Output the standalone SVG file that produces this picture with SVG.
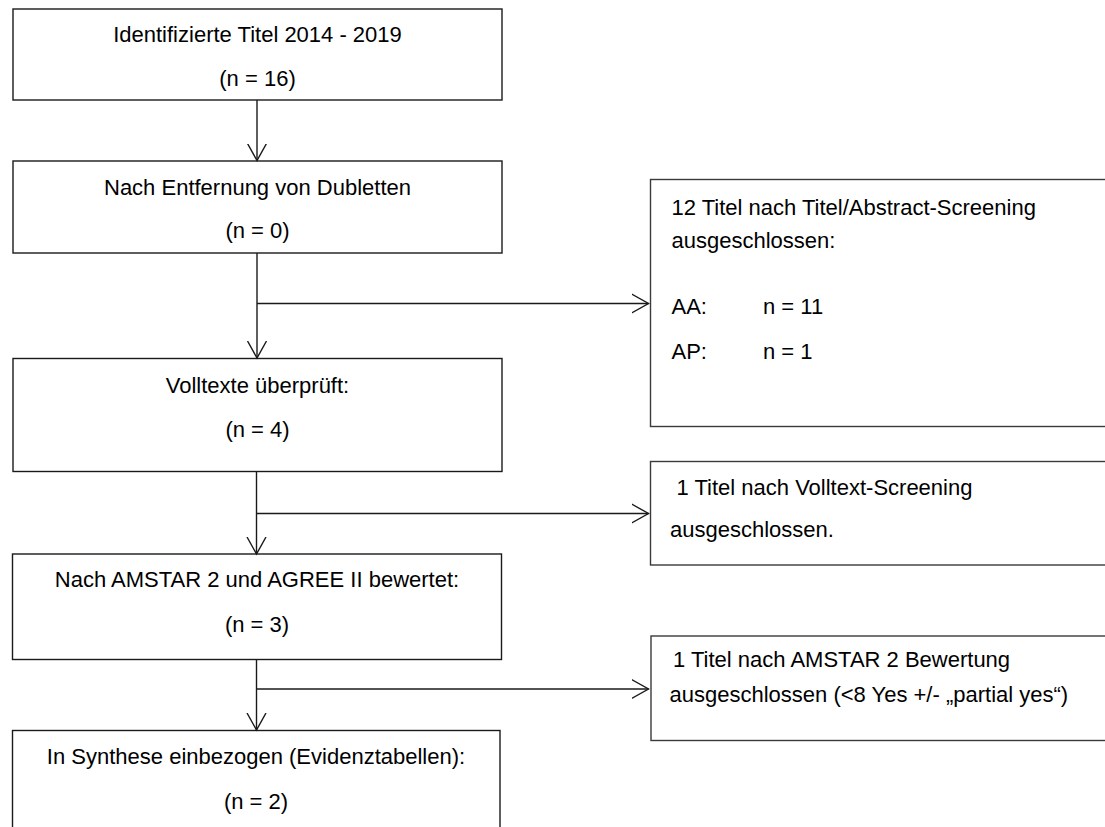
<svg xmlns="http://www.w3.org/2000/svg" width="1105" height="827" viewBox="0 0 1105 827">
  <style>
    .box { fill: #ffffff; stroke: #1a1a1a; stroke-width: 1.4; }
    .side { fill: #ffffff; stroke: #3a3a3a; stroke-width: 1.4; }
    .lbl { font-family: "Liberation Sans", Arial, sans-serif; font-size: 22px; fill: #000000; }
    .mid { text-anchor: middle; }
    .link { fill: none; stroke: #1a1a1a; stroke-width: 1.4; }
  </style>
  <defs>
    <marker id="vee" markerUnits="userSpaceOnUse" markerWidth="24" markerHeight="24" refX="17" refY="10" orient="auto" viewBox="0 0 24 20">
      <path d="M0,0.5 L17,10 L0,19.5" fill="none" stroke="#1a1a1a" stroke-width="1.4"/>
    </marker>
  </defs>
  <rect width="1105" height="827" fill="#ffffff"/>

  <!-- main flow boxes -->
  <g id="identified">
    <rect class="box" x="13" y="9" width="489" height="91"/>
    <text class="lbl mid" x="257.5" y="42">Identifizierte Titel 2014 - 2019</text>
    <text class="lbl mid" x="257.5" y="86">(n = 16)</text>
  </g>
  <g id="deduplicated">
    <rect class="box" x="13" y="161" width="489" height="92"/>
    <text class="lbl mid" x="257.5" y="194.5">Nach Entfernung von Dubletten</text>
    <text class="lbl mid" x="257.5" y="237.5">(n = 0)</text>
  </g>
  <g id="fulltext">
    <rect class="box" x="13" y="358.5" width="489" height="113"/>
    <text class="lbl mid" x="257.5" y="392.5">Volltexte überprüft:</text>
    <text class="lbl mid" x="257.5" y="437">(n = 4)</text>
  </g>
  <g id="appraised">
    <rect class="box" x="12.5" y="554" width="489" height="105.5"/>
    <text class="lbl mid" x="257" y="587">Nach AMSTAR 2 und AGREE II bewertet:</text>
    <text class="lbl mid" x="257" y="632">(n = 3)</text>
  </g>
  <g id="synthesis">
    <rect class="box" x="12.5" y="730.5" width="487.5" height="110"/>
    <text class="lbl mid" x="256" y="763.5">In Synthese einbezogen (Evidenztabellen):</text>
    <text class="lbl mid" x="256" y="808.5">(n = 2)</text>
  </g>

  <!-- exclusion boxes, running past the right edge -->
  <g id="excluded-abstract">
    <rect class="side" x="650.5" y="179.5" width="470" height="247"/>
    <text class="lbl" x="671.5" y="215">12 Titel nach Titel/Abstract-Screening</text>
    <text class="lbl" x="671.5" y="247.5">ausgeschlossen:</text>
    <text class="lbl" x="671.5" y="314">AA:</text>
    <text class="lbl" x="763" y="314">n = 11</text>
    <text class="lbl" x="671.5" y="358.5">AP:</text>
    <text class="lbl" x="763" y="358.5">n = 1</text>
  </g>
  <g id="excluded-fulltext">
    <rect class="side" x="650.5" y="461.5" width="470" height="103.5"/>
    <text class="lbl" x="676.5" y="495"> 1 Titel nach Volltext-Screening</text>
    <text class="lbl" x="670" y="537">ausgeschlossen.</text>
  </g>
  <g id="excluded-amstar">
    <rect class="side" x="651" y="636" width="470" height="104.5"/>
    <text class="lbl" x="673" y="667"> 1 Titel nach AMSTAR 2 Bewertung</text>
    <text class="lbl" x="669.5" y="702">ausgeschlossen (&lt;8 Yes +/- „partial yes“)</text>
  </g>

  <!-- connectors -->
  <g id="connectors">
    <path class="link" d="M257,100 V160.5" marker-end="url(#vee)"/>
    <path class="link" d="M257,253 V358" marker-end="url(#vee)"/>
    <path class="link" d="M257,303.5 H648.5" marker-end="url(#vee)"/>
    <path class="link" d="M256.5,471.5 V554" marker-end="url(#vee)"/>
    <path class="link" d="M256.5,513.5 H648.5" marker-end="url(#vee)"/>
    <path class="link" d="M256.5,659.5 V730" marker-end="url(#vee)"/>
    <path class="link" d="M256.5,689 H648.5" marker-end="url(#vee)"/>
  </g>
</svg>
